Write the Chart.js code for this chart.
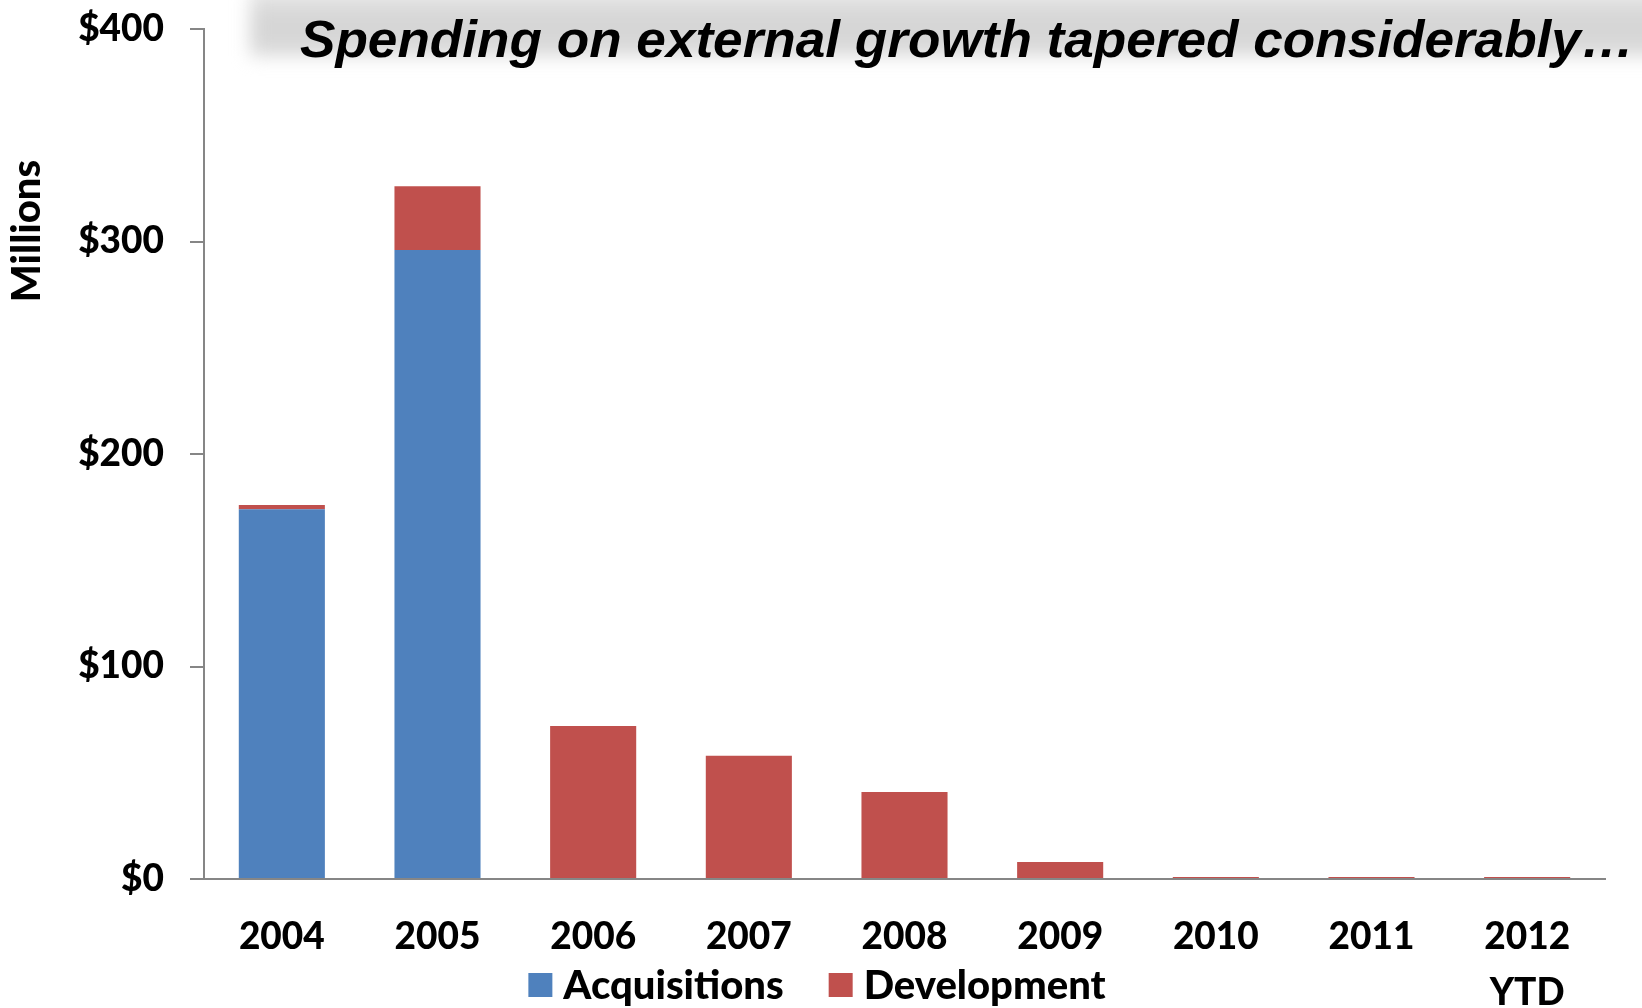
<!DOCTYPE html>
<html>
<head>
<meta charset="utf-8">
<script src="https://cdn.jsdelivr.net/npm/chart.js@4/dist/chart.umd.min.js"></script>
<style>
  html, body { margin: 0; padding: 0; background: #ffffff; }
  #wrap { position: relative; width: 1642px; height: 1008px; }
</style>
</head>
<body>
<div id="wrap"><canvas id="chart"></canvas></div>
<script>
// Yearly spending, in millions of dollars
const categories = ['2004', '2005', '2006', '2007', '2008', '2009', '2010', '2011', ['2012', 'YTD']];
const acquisitions = [174, 296, 0, 0, 0, 0, 0, 0, 0];
const development = [2, 30, 72, 58, 41, 8, 1, 1, 1];
const yTicks = [0, 100, 200, 300, 400];

const titleText = 'Spending on external growth tapered considerably\u2026';
const yTitleText = 'Millions';

const BLUE = '#4F81BD';
const RED = '#C0504D';
const AXIS = '#868686';
const WEIGHT = '900';

// Gray shaded banner with the italic headline at the top
const headlinePlugin = {
  id: 'headline',
  beforeDraw(chart) {
    const ctx = chart.ctx;
    ctx.save();
    ctx.fillStyle = '#ffffff';
    ctx.fillRect(0, 0, chart.width, chart.height);
    ctx.filter = 'blur(9px)';
    const g = ctx.createLinearGradient(0, 0, 0, 56);
    g.addColorStop(0, '#e2e2e2');
    g.addColorStop(0.35, '#d4d4d4');
    g.addColorStop(1, '#dadada');
    ctx.fillStyle = g;
    ctx.fillRect(250, -10, 1500, 66);
    ctx.restore();
  },
  afterDraw(chart) {
    const ctx = chart.ctx;
    ctx.save();
    ctx.font = 'italic bold 52px "Liberation Sans", Arial, sans-serif';
    ctx.fillStyle = '#000000';
    ctx.textBaseline = 'alphabetic';
    const w = ctx.measureText(titleText).width;
    const sx = 1334 / w;
    ctx.translate(300, 57);
    ctx.scale(sx, 1);
    ctx.fillText(titleText, 0, 0);
    ctx.restore();
  }
};

// Rotated axis caption beside the value scale
const yCaptionPlugin = {
  id: 'yCaption',
  afterDraw(chart) {
    const ctx = chart.ctx;
    ctx.save();
    ctx.translate(27, 231);
    ctx.rotate(-Math.PI / 2);
    ctx.font = WEIGHT + ' 40px Lato';
    ctx.fillStyle = '#000000';
    ctx.textAlign = 'center';
    ctx.textBaseline = 'middle';
    ctx.fillText(yTitleText, 0, 0);
    ctx.restore();
  }
};

// Legend row built from the datasets
const legendRowPlugin = {
  id: 'legendRow',
  afterDraw(chart) {
    const ctx = chart.ctx;
    const box = 24, gap = 11, between = 45;
    ctx.save();
    ctx.font = WEIGHT + ' 40px Lato';
    const items = chart.data.datasets.map(ds => ({
      label: ds.label, color: ds.backgroundColor, w: ctx.measureText(ds.label).width
    }));
    const total = items.reduce((s, it) => s + box + gap + it.w, 0) + between * (items.length - 1);
    let x = 817 - total / 2;
    const cy = 985;
    ctx.textBaseline = 'middle';
    items.forEach(it => {
      ctx.fillStyle = it.color;
      ctx.fillRect(x, cy - box / 2, box, box);
      x += box + gap;
      ctx.fillStyle = '#000000';
      ctx.fillText(it.label, x, cy + 1);
      x += it.w + between;
    });
    ctx.restore();
  }
};

new Chart(document.getElementById('chart'), {
  type: 'bar',
  data: {
    labels: categories,
    datasets: [
      { label: 'Acquisitions', data: acquisitions, backgroundColor: BLUE, borderWidth: 0 },
      { label: 'Development', data: development, backgroundColor: RED, borderWidth: 0 }
    ]
  },
  plugins: [headlinePlugin, yCaptionPlugin, legendRowPlugin],
  options: {
    responsive: true,
    maintainAspectRatio: false,
    animation: false,
    devicePixelRatio: 1,
    layout: { padding: { left: 0, right: 37, top: 29, bottom: 0 } },
    datasets: { bar: { categoryPercentage: 1, barPercentage: 0.553 } },
    plugins: {
      legend: { display: false },
      title: { display: false },
      tooltip: { enabled: false }
    },
    scales: {
      x: {
        stacked: true,
        grid: { display: false, drawTicks: false },
        border: { display: true, color: AXIS, width: 2 },
        ticks: {
          color: '#000000',
          font: { family: 'Lato', weight: WEIGHT, size: 37, lineHeight: 1.51 },
          padding: 30,
          maxRotation: 0,
          autoSkip: false
        },
        afterFit(scale) {
          scale.height = 129;
          scale.paddingLeft = 0;
          scale.paddingRight = 0;
        }
      },
      y: {
        stacked: true,
        min: 0,
        max: 400,
        afterBuildTicks(scale) { scale.ticks = yTicks.map(v => ({ value: v })); },
        grid: { drawOnChartArea: false, drawTicks: true, tickLength: 14, color: AXIS, lineWidth: 2 },
        border: { display: true, color: AXIS, width: 2 },
        ticks: {
          color: '#000000',
          font: { family: 'Lato', weight: WEIGHT, size: 37 },
          padding: 26,
          callback: v => '$' + v
        },
        afterFit(scale) {
          scale.width = 204;
          scale.paddingTop = 0;
          scale.paddingBottom = 0;
        }
      }
    }
  }
});
</script>
</body>
</html>
